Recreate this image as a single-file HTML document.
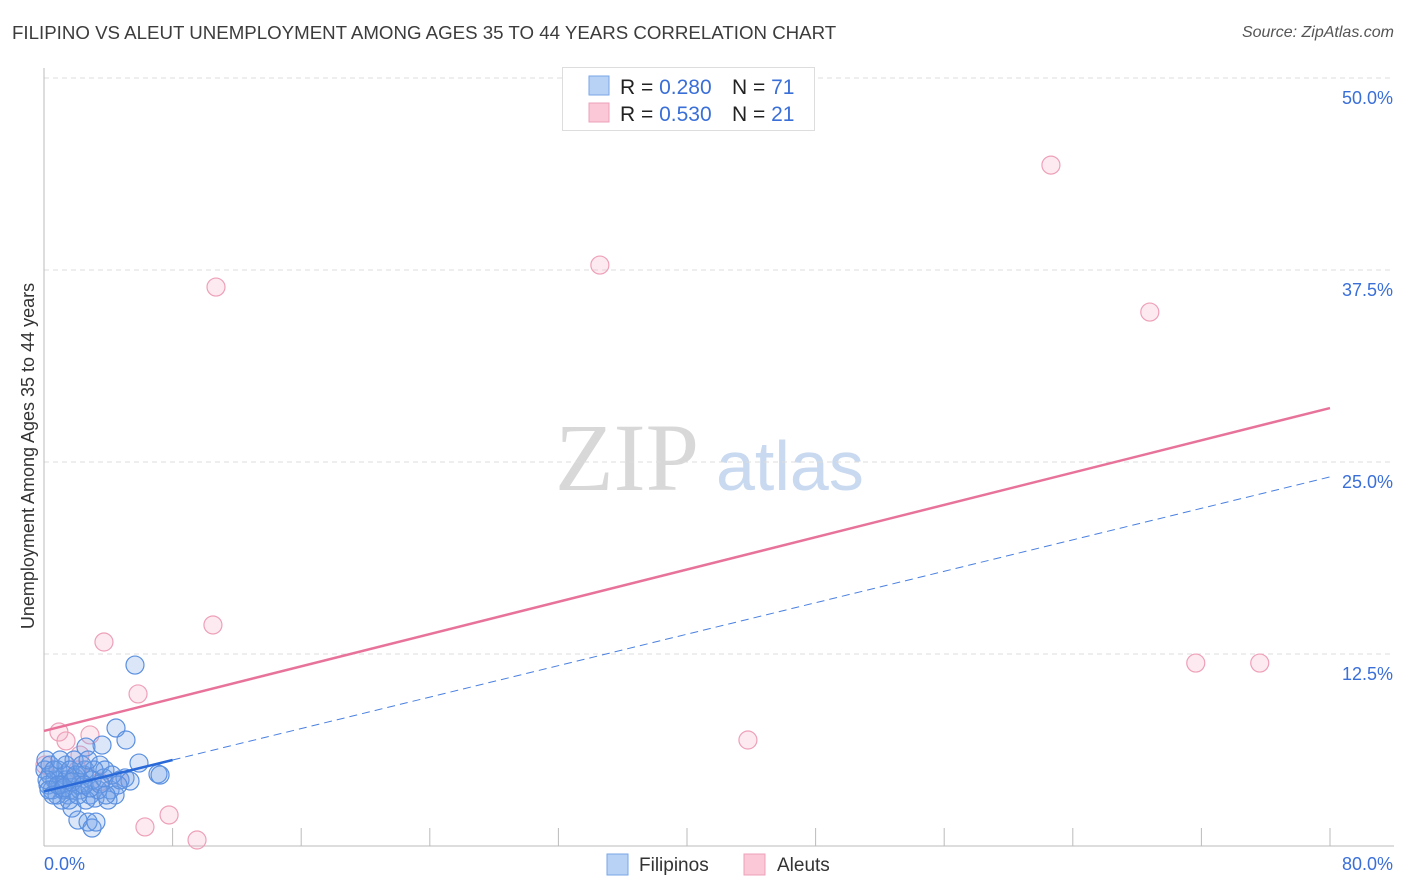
<!DOCTYPE html>
<html><head><meta charset="utf-8">
<style>
body{margin:0;background:#fff;font-family:"Liberation Sans",sans-serif;}
#wrap{position:relative;width:1406px;height:892px;overflow:hidden;}
.title{position:absolute;left:12px;top:22px;font-size:18.7px;color:#3c3c3c;}
.source{position:absolute;right:12px;top:24px;font-size:16px;color:#555;font-style:italic;}
</style></head><body>
<div id="wrap">
<div class="title">FILIPINO VS ALEUT UNEMPLOYMENT AMONG AGES 35 TO 44 YEARS CORRELATION CHART</div>
<div class="source">Source: ZipAtlas.com</div>
<svg id="svg" width="1406" height="892" style="position:absolute;left:0;top:0">
<text x="555" y="490" font-family="Liberation Serif,serif" font-size="96" fill="#d8d8d8">ZIP</text>
<text x="716" y="490" font-family="Liberation Sans,sans-serif" font-size="70" fill="#c9d9f0">atlas</text>
<g id="grid"></g><g id="pts"></g><g id="lines"></g>
<text x="34" y="456" transform="rotate(-90 34 456)" text-anchor="middle" font-size="18" fill="#333">Unemployment Among Ages 35 to 44 years</text>
<g>
<rect x="562.5" y="67.5" width="252" height="63" fill="#fff" stroke="#ddd"/>
<rect x="589" y="76" width="20" height="19" fill="#b8d2f5" stroke="#7aa6e6"/>
<rect x="589" y="103" width="20" height="19" fill="#fac8d6" stroke="#eea0b8"/>
<text x="620" y="94" font-size="21" fill="#222">R = <tspan fill="#3a6fd8">0.280</tspan></text>
<text x="732" y="94" font-size="21" fill="#222">N = <tspan fill="#3a6fd8">71</tspan></text>
<text x="620" y="121" font-size="21" fill="#222">R = <tspan fill="#3a6fd8">0.530</tspan></text>
<text x="732" y="121" font-size="21" fill="#222">N = <tspan fill="#3a6fd8">21</tspan></text>
</g>
<g>
<rect x="607" y="854" width="21" height="21" fill="#b8d2f5" stroke="#7aa6e6"/>
<text x="639" y="871" font-size="19" fill="#333">Filipinos</text>
<rect x="744" y="854" width="21" height="21" fill="#fac8d6" stroke="#eea0b8"/>
<text x="777" y="871" font-size="19" fill="#333">Aleuts</text>
</g>
</svg>
</div>
<script>
const yTicks=[12.5,25,37.5,50];
const yTickLabels=["12.5%","25.0%","37.5%","50.0%"];
const xTicks=[0,8,16,24,32,40,48,56,64,72,80];
const xMin=0,xMax=80,yMin=0,yMax=50;
const filipinoX=[5.66,4.48,5.10,3.61,2.61,5.91,7.09,7.22,0.06,0.37,0.68,1.00,1.31,1.62,1.93,2.24,2.55,2.86,3.17,3.48,3.79,4.11,4.42,4.73,5.04,5.35,1.12,1.49,1.74,2.11,2.74,2.99,3.23,3.98,0.25,0.50,0.87,1.37,1.87,2.49,3.11,3.36,3.73,4.23,4.60,0.81,1.18,1.56,2.24,2.61,2.99,0.12,0.37,0.62,1.00,1.37,1.62,1.99,2.36,2.74,0.19,0.31,0.56,0.87,1.24,1.74,2.11,2.49,2.86,3.48,3.86];
const filipinoY=[11.78,7.68,6.90,6.57,6.44,5.40,4.69,4.62,4.95,4.62,4.30,3.97,4.62,3.65,4.43,3.97,4.95,3.32,3.12,5.27,4.95,3.65,3.32,4.30,4.43,4.23,2.99,3.32,2.47,1.69,1.56,1.17,1.56,2.99,3.97,3.65,4.95,5.27,5.60,4.62,4.95,3.65,4.43,4.62,3.97,3.32,3.65,2.99,3.65,2.99,4.30,5.60,5.27,4.95,5.60,4.30,4.95,4.62,5.27,5.60,4.30,3.65,3.32,3.97,3.78,4.17,3.32,3.97,3.78,4.04,3.32];
const aleutX=[10.70,34.58,62.64,68.79,71.65,75.63,43.79,10.51,3.73,5.85,0.93,1.37,2.86,2.24,0.06,3.48,6.28,7.78,9.52,4.73,2.11];
const aleutY=[36.39,37.82,44.33,34.76,11.91,11.91,6.90,14.39,13.28,9.90,7.42,6.84,7.23,5.92,5.27,4.17,1.24,2.02,0.39,4.30,4.95];
const filipinoFit=[3.55,0.256];
const aleutFit=[7.49,0.2628];
const NS="http://www.w3.org/2000/svg";
const X0=44,X1=1330,Y0=846,Y1=78;
function sx(v){return X0+(v-xMin)/(xMax-xMin)*(X1-X0);}
function sy(v){return Y0-(v-yMin)/(yMax-yMin)*(Y0-Y1);}
function mk(t,a,p){const e=document.createElementNS(NS,t);for(const k in a)e.setAttribute(k,a[k]);p.appendChild(e);return e;}
const grid=document.getElementById('grid');
yTicks.forEach((t,i)=>{
 const l=mk('line',{x1:X0,x2:1394,y1:sy(t),y2:sy(t),stroke:'#ddd','stroke-dasharray':'5,4'},grid);
 
 
 const tx=mk('text',{x:1393,y:sy(t)+26,'text-anchor':'end','font-size':18,fill:'#3a6fd8'},grid);
 tx.textContent=yTickLabels[i];
 
 
});
const ax=mk('line',{x1:X0,x2:X0,y1:68,y2:Y0,stroke:'#bbb'},grid);


const bx=mk('line',{x1:X0,x2:1394,y1:Y0,y2:Y0,stroke:'#bbb'},grid);


xTicks.forEach(t=>{
 const l=mk('line',{x1:sx(t),x2:sx(t),y1:828,y2:Y0,stroke:'#bbb'},grid);
 
 
});
const xl0=mk('text',{x:44,y:870,'font-size':18,fill:'#3a6fd8'},grid);xl0.textContent="0.0%";


const xl1=mk('text',{x:1393,y:870,'text-anchor':'end','font-size':18,fill:'#3a6fd8'},grid);xl1.textContent="80.0%";


const pts=document.getElementById('pts');
aleutX.forEach((x,i)=>{
 const c=mk('circle',{cx:sx(x),cy:sy(aleutY[i]),r:9,fill:'rgba(245,170,195,0.25)',stroke:'#eea0b8','stroke-width':1.2},pts);
 
 
});
filipinoX.forEach((x,i)=>{
 const c=mk('circle',{cx:sx(x),cy:sy(filipinoY[i]),r:9,fill:'rgba(110,160,230,0.25)',stroke:'#5b90e0','stroke-width':1.2},pts);
 
 
});
const lines=document.getElementById('lines');
const f=(p,x)=>p[0]+p[1]*x;
const la=mk('line',{x1:sx(0),y1:sy(f(aleutFit,0)),x2:sx(80),y2:sy(f(aleutFit,80)),stroke:'#e8739a','stroke-width':2.5},lines);


const lb=mk('line',{x1:sx(0),y1:sy(f(filipinoFit,0)),x2:sx(8),y2:sy(f(filipinoFit,8)),stroke:'#2a6ad8','stroke-width':2.5},lines);


const lbd=mk('line',{x1:sx(8),y1:sy(f(filipinoFit,8)),x2:sx(80),y2:sy(f(filipinoFit,80)),stroke:'#4a80e0','stroke-width':1,'stroke-dasharray':'8,5'},lines);


</script>
</body></html>
